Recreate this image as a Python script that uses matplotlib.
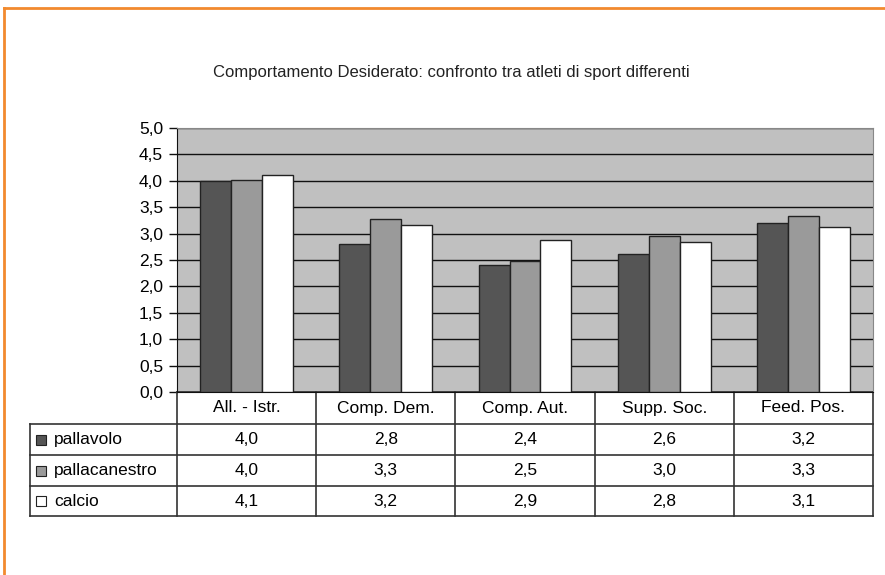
import numpy as np
import matplotlib
matplotlib.use("Agg")
import matplotlib.pyplot as plt
from matplotlib.lines import Line2D
from matplotlib.patches import Rectangle
import matplotlib.transforms as mtransforms

plt.rcParams["font.family"] = ["Liberation Sans", "DejaVu Sans"]

# --- dati ---
categorie = ["All. - Istr.", "Comp. Dem.", "Comp. Aut.", "Supp. Soc.", "Feed. Pos."]
serie = ["pallavolo", "pallacanestro", "calcio"]
pallavolo = [4.00, 2.80, 2.40, 2.61, 3.20]
pallacanestro = [4.02, 3.28, 2.48, 2.96, 3.33]
calcio = [4.11, 3.17, 2.88, 2.84, 3.13]
yticks = [0.0, 0.5, 1.0, 1.5, 2.0, 2.5, 3.0, 3.5, 4.0, 4.5, 5.0]

valori = [pallavolo, pallacanestro, calcio]
colori = ["#555555", "#9a9a9a", "#ffffff"]

W, H = 885, 575
fs = 12.5
fig = plt.figure(figsize=(W / 100, H / 100), dpi=100)

# bordo arancione
fig.add_artist(Line2D([4 / W, 1], [1 - 8 / H, 1 - 8 / H], color="#f28a2e", lw=2, transform=fig.transFigure))
fig.add_artist(Line2D([4 / W, 4 / W], [0, 1 - 8 / H], color="#f28a2e", lw=2, transform=fig.transFigure))

fig.text(451 / W, 1 - 72 / H, "Comportamento Desiderato: confronto tra atleti di sport differenti",
         ha="center", va="center", fontsize=12, color="#222222")

# area grafico (pixel)
x0, x1, ytop, ybot = 177, 873, 128, 392
ax = fig.add_axes([x0 / W, 1 - ybot / H, (x1 - x0) / W, (ybot - ytop) / H])
ax.set_facecolor("#c0c0c0")

n = len(categorie)
x = np.arange(n) + 0.5
bw = 0.222
for i, (vals, col) in enumerate(zip(valori, colori)):
    ax.bar(x + (i - 1) * bw, vals, width=bw, color=col, edgecolor="#222222", linewidth=1, zorder=3)

ax.set_xlim(0, n)
ax.set_ylim(0, 5)
ax.set_yticks(yticks)
ax.set_yticklabels([f"{t:.1f}".replace(".", ",") for t in yticks], fontsize=fs)
ax.yaxis.grid(True, color="#111111", linewidth=1, zorder=1)
ax.set_axisbelow(True)
ax.set_xticks([])
ax.tick_params(axis="y", length=6, width=1, color="#111111", pad=4)
for s in ["top", "right"]:
    ax.spines[s].set_color("#888888")
ax.spines["left"].set_color("#111111")
ax.spines["bottom"].set_color("#111111")

# --- tabella dati sotto il grafico ---
trans = mtransforms.blended_transform_factory(ax.transData, ax.transAxes)
ph = ybot - ytop
cw = (x1 - x0) / n
righe_px = [392, 424, 455, 486, 516]
ry = [(ybot - r) / ph for r in righe_px]
xleg = -(x0 - 30) / cw
lc = "#333333"


def linea(xs, ys):
    ax.add_line(Line2D(xs, ys, transform=trans, color=lc, lw=1.2, clip_on=False))


for j, yy in enumerate(ry):
    linea([0 if j == 0 else xleg, n], [yy, yy])
for k in range(n + 1):
    linea([k, k], [ry[0], ry[-1]])
linea([xleg, xleg], [ry[1], ry[-1]])

for k, c in enumerate(categorie):
    ax.text(k + 0.5, (ry[0] + ry[1]) / 2, c, transform=trans, ha="center", va="center", fontsize=fs)

for r, (nome, vals, col) in enumerate(zip(serie, valori, colori)):
    yc = (ry[r + 1] + ry[r + 2]) / 2
    for k, v in enumerate(vals):
        ax.text(k + 0.5, yc, f"{v:.1f}".replace(".", ","), transform=trans,
                ha="center", va="center", fontsize=fs)
    hsq = 10 / ph
    ax.add_patch(Rectangle((xleg + 6 / cw, yc - hsq / 2), 10 / cw, hsq, transform=trans,
                           facecolor=col, edgecolor="#222222", lw=0.8, clip_on=False))
    ax.text(xleg + 24 / cw, yc, nome, transform=trans, ha="left", va="center", fontsize=fs)

fig.savefig("out.png", dpi=100)
